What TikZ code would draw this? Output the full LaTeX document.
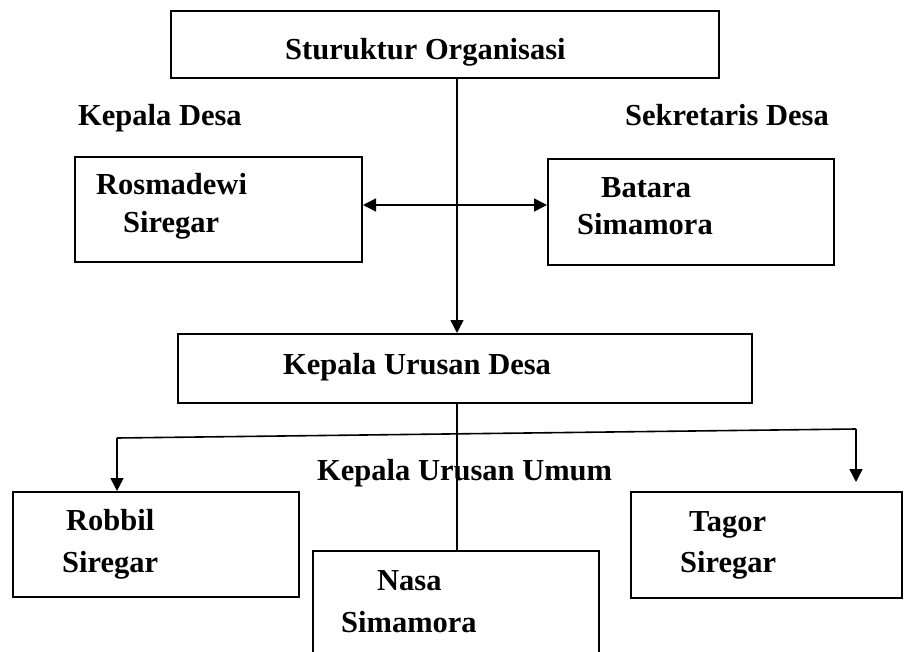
\documentclass[tikz,border=0pt]{standalone}
\usepackage{fontspec}
\setmainfont{Liberation Serif}
\usetikzlibrary{arrows.meta}
\tikzset{
  box/.style={draw=black, line width=2pt, rectangle, inner sep=0pt, fill=none},
  lbl/.style={anchor=base west, inner sep=0pt, font=\fontsize{30.5}{36}\selectfont\bfseries},
  conn/.style={draw=black, line width=1.6pt},
  arr/.style={conn, -{Triangle[length=13pt,width=13pt]}},
  darr/.style={conn, {Triangle[length=13pt,width=13pt]}-{Triangle[length=13pt,width=13pt]}}
}
\begin{document}
\begin{tikzpicture}[x=1pt,y=-1pt]
\clip (0,0) rectangle (904,652);
\fill[white] (0,0) rectangle (904,652);
% boxes
\node[box, minimum width=548pt, minimum height=67pt] (title) at (445,44.5) {};
\node[box, minimum width=287pt, minimum height=105pt] (rosma) at (218.5,209.5) {};
\node[box, minimum width=286pt, minimum height=106pt] (batara) at (691,212) {};
\node[box, minimum width=574pt, minimum height=69pt] (kud) at (465,368.5) {};
\node[box, minimum width=286pt, minimum height=105pt] (robbil) at (156,544.5) {};
\node[box, minimum width=286pt, minimum height=130pt] (nasa) at (456,616) {};
\node[box, minimum width=271pt, minimum height=106pt] (tagor) at (766.5,545) {};
% texts
\node[lbl] (ttitle) at (285,60) {Sturuktur Organisasi};
\node[lbl] (tkd) at (78,126) {Kepala Desa};
\node[lbl] (tsd) at (625,126) {Sekretaris Desa};
\node[lbl] (trosma1) at (96,195) {Rosmadewi};
\node[lbl] (trosma2) at (123,233) {Siregar};
\node[lbl] (tbatara1) at (601,198) {Batara};
\node[lbl] (tbatara2) at (577,235) {Simamora};
\node[lbl] (tkud) at (283,374) {Kepala Urusan Desa};
\node[lbl] (tkuu) at (317,480) {Kepala Urusan Umum};
\node[lbl] (trobbil1) at (66,530) {Robbil};
\node[lbl] (trobbil2) at (62,572) {Siregar};
\node[lbl] (tnasa1) at (377,590) {Nasa};
\node[lbl] (tnasa2) at (341,632) {Simamora};
\node[lbl] (ttagor1) at (689,531) {Tagor};
\node[lbl] (ttagor2) at (680,572) {Siregar};
% connectors
\coordinate (hl) at (117,438);
\coordinate (hr) at (856,429);
\coordinate (hrend) at (856,482);
\draw[arr] (title.south -| 457,0) -- (kud.north -| 457,0);
\draw[darr] (rosma.east |- 0,205) -- (batara.west |- 0,205);
\draw[conn] (kud.south -| 457,0) -- (nasa.north -| 457,0);
\draw[conn] (hl) -- (hr);
\draw[arr] (hl) -- (robbil.north -| hl);
\draw[arr] (hr) -- (hrend);
\end{tikzpicture}
\end{document}
